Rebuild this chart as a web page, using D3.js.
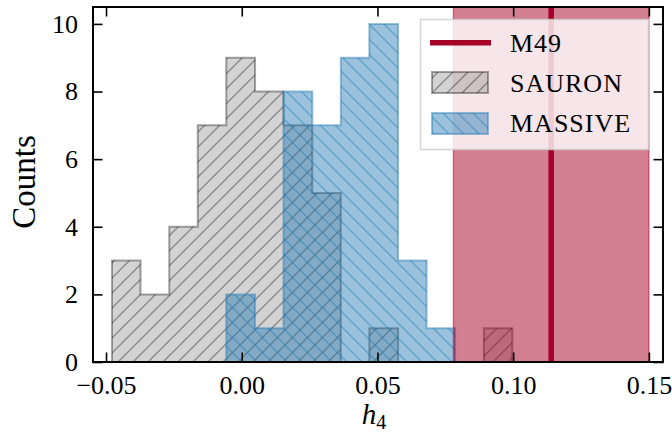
<!DOCTYPE html>
<html>
<head>
<meta charset="utf-8">
<script src="https://cdn.jsdelivr.net/npm/d3@7"></script>
<style>
  html, body { margin: 0; padding: 0; background: #fff; }
  svg { display: block; }
  svg text { font-family: "Liberation Serif", "Times New Roman", Times, serif !important; fill: #000; }
</style>
</head>
<body>
<svg id="chart" width="672" height="438"></svg>
<script>
// Histogram bin edges in h4 (shared by both samples)
const binEdges = [-0.0478, -0.0373, -0.0267, -0.0162, -0.0057, 0.0049, 0.0154,
                  0.0260, 0.0365, 0.0470, 0.0576, 0.0681, 0.0786, 0.0892, 0.0997];
// Galaxy counts per bin
const sauronCounts  = [3, 2, 4, 7, 9, 8, 7, 5, 0, 1, 0, 0, 0, 1];
const massiveCounts = [0, 0, 0, 0, 2, 1, 8, 7, 9, 10, 3, 1, 0, 0];
// M49 measurement and its uncertainty range
const m49Value = 0.114;
const m49Range = [0.078, 0.150];
// Axis ticks
const xTicks = [-0.05, 0.00, 0.05, 0.10, 0.15];
const xTickLabels = ["\u22120.05", "0.00", "0.05", "0.10", "0.15"];
const yTicks = [0, 2, 4, 6, 8, 10];
const yTickLabels = ["0", "2", "4", "6", "8", "10"];
const legendLabels = ["M49", "SAURON", "MASSIVE"];

const serif = "'Liberation Serif', 'Times New Roman', Times, serif";
const svg = d3.select("#chart");
const plot = { left: 93, right: 663, top: 7, bottom: 362 };

const x = d3.scaleLinear().domain([-0.0548, 0.1552]).range([plot.left, plot.right]);
const y = d3.scaleLinear().domain([0, 10.5]).range([plot.bottom, plot.top]);

const red = "#a50026";
const blue = "#1f77b4";
const hatchGap = 15;

// Hatch patterns: "/" for SAURON, "\" for MASSIVE
const defs = svg.append("defs");
function hatch(id, color, opacity, forward) {
  const s = hatchGap;
  const p = defs.append("pattern")
    .attr("id", id).attr("patternUnits", "userSpaceOnUse")
    .attr("width", s).attr("height", s);
  const d = forward
    ? `M0,${s} L${s},0 M${-s/2},${s/2} L${s/2},${-s/2} M${s/2},${s*1.5} L${s*1.5},${s/2}`
    : `M0,0 L${s},${s} M${-s/2},${s/2} L${s/2},${s*1.5} M${s/2},${-s/2} L${s*1.5},${s/2}`;
  p.append("path").attr("d", d)
    .attr("stroke", color).attr("stroke-opacity", opacity)
    .attr("stroke-width", 1.4).attr("fill", "none");
}
hatch("hatch-sauron", "#000", 0.35, true);
hatch("hatch-massive", blue, 0.45, false);

// Step outline of a filled histogram, trimmed to its non-empty range
function stepPoints(counts) {
  const first = counts.findIndex(c => c > 0);
  let last = counts.length - 1;
  while (counts[last] === 0) last--;
  const pts = [[binEdges[first], 0]];
  for (let i = first; i <= last; i++) {
    pts.push([binEdges[i], counts[i]]);
    pts.push([binEdges[i + 1], counts[i]]);
  }
  pts.push([binEdges[last + 1], 0]);
  return pts;
}
const stepLine = d3.line().x(d => x(d[0])).y(d => y(d[1]));

function drawHist(counts, face, faceOpacity, edge, edgeOpacity, hatchId) {
  const d = stepLine(stepPoints(counts)) + "Z";
  const g = svg.append("g");
  g.append("path").attr("d", d).attr("fill", face).attr("fill-opacity", faceOpacity);
  g.append("path").attr("d", d).attr("fill", `url(#${hatchId})`);
  g.append("path").attr("d", d).attr("fill", "none")
    .attr("stroke", edge).attr("stroke-opacity", edgeOpacity)
    .attr("stroke-width", 2).attr("stroke-linejoin", "miter");
}

drawHist(sauronCounts, "#808080", 0.35, "#000", 0.35, "hatch-sauron");
drawHist(massiveCounts, blue, 0.45, blue, 0.45, "hatch-massive");

// M49 uncertainty band and value
svg.append("rect")
  .attr("x", x(m49Range[0])).attr("y", plot.top)
  .attr("width", x(m49Range[1]) - x(m49Range[0]))
  .attr("height", plot.bottom - plot.top)
  .attr("fill", red).attr("fill-opacity", 0.5)
  .attr("stroke", red).attr("stroke-opacity", 0.5).attr("stroke-width", 1.4);
svg.append("line")
  .attr("x1", x(m49Value)).attr("x2", x(m49Value))
  .attr("y1", plot.top).attr("y2", plot.bottom)
  .attr("stroke", red).attr("stroke-width", 5.5);

// Axes: ticks pointing inward on all four sides
const tickLen = 9.5;
const axisG = svg.append("g");
const bottomAxis = d3.axisBottom(x).tickValues(xTicks)
  .tickFormat((d, i) => xTickLabels[i]).tickSizeInner(-tickLen).tickSizeOuter(0).tickPadding(14);
const topAxis = d3.axisTop(x).tickValues(xTicks).tickFormat("").tickSizeInner(-tickLen).tickSizeOuter(0);
const leftAxis = d3.axisLeft(y).tickValues(yTicks)
  .tickFormat((d, i) => yTickLabels[i]).tickSizeInner(-tickLen).tickSizeOuter(0).tickPadding(15);
const rightAxis = d3.axisRight(y).tickValues(yTicks).tickFormat("").tickSizeInner(-tickLen).tickSizeOuter(0);

function styleAxis(g) {
  g.attr("font-family", serif).attr("font-size", 26);
  g.select(".domain").remove();
  g.selectAll(".tick line").attr("stroke", "#000").attr("stroke-width", 1.6);
  g.selectAll(".tick text").attr("fill", "#000");
}
axisG.append("g").attr("transform", `translate(0,${plot.bottom})`).call(bottomAxis).call(styleAxis);
axisG.append("g").attr("transform", `translate(0,${plot.top})`).call(topAxis).call(styleAxis);
axisG.append("g").attr("transform", `translate(${plot.left},0)`).call(leftAxis).call(styleAxis);
axisG.append("g").attr("transform", `translate(${plot.right},0)`).call(rightAxis).call(styleAxis);

svg.append("rect")
  .attr("x", plot.left).attr("y", plot.top)
  .attr("width", plot.right - plot.left).attr("height", plot.bottom - plot.top)
  .attr("fill", "none").attr("stroke", "#000").attr("stroke-width", 2);

// Axis labels
svg.append("text")
  .attr("transform", `translate(35,182) rotate(-90)`)
  .attr("text-anchor", "middle").attr("font-size", 33)
  .text("Counts");
const xl = svg.append("text")
  .attr("x", 374).attr("y", 424).attr("text-anchor", "middle").attr("font-size", 29);
xl.append("tspan").attr("font-style", "italic").text("h");
xl.append("tspan").attr("font-size", 20).attr("dy", 5).text("4");

// Legend
const lg = svg.append("g");
lg.append("rect").attr("x", 420.5).attr("y", 19.5).attr("width", 228).attr("height", 130)
  .attr("fill", "#fff").attr("fill-opacity", 0.8)
  .attr("stroke", "#cccccc").attr("stroke-opacity", 0.8).attr("stroke-width", 1.5);
lg.append("line").attr("x1", 430).attr("x2", 491).attr("y1", 42.7).attr("y2", 42.7)
  .attr("stroke", red).attr("stroke-width", 5.5);

function legendPatch(yTop, face, faceOpacity, edge, edgeOpacity, hatchId) {
  const r = () => lg.append("rect").attr("x", 432).attr("y", yTop).attr("width", 56).attr("height", 21);
  r().attr("fill", face).attr("fill-opacity", faceOpacity);
  r().attr("fill", `url(#${hatchId})`);
  r().attr("fill", "none").attr("stroke", edge).attr("stroke-opacity", edgeOpacity).attr("stroke-width", 2);
}
legendPatch(72, "#808080", 0.35, "#000", 0.35, "hatch-sauron");
legendPatch(113, blue, 0.45, blue, 0.45, "hatch-massive");

const legendY = [51.7, 91.7, 132.3];
legendLabels.forEach((t, i) => {
  lg.append("text").attr("x", 510).attr("y", legendY[i])
    .attr("font-size", 26).attr("letter-spacing", 1).text(t);
});
</script>
</body>
</html>
